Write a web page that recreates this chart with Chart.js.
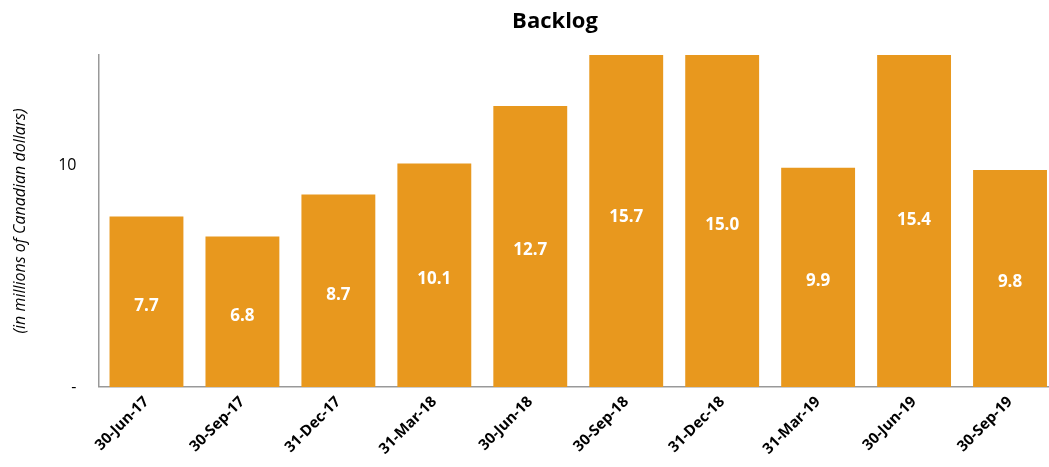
<!DOCTYPE html>
<html>
<head>
<meta charset="utf-8">
<script src="https://cdn.jsdelivr.net/npm/chart.js@4/dist/chart.umd.min.js"></script>
<style>
    html, body { margin: 0; padding: 0; background: #fff; overflow: hidden; }
    #wrap { width: 1060px; height: 467px; }
</style>
</head>
<body>
<div id="wrap"><canvas id="backlogChart"></canvas></div>
<script>
// dados
const quarters = ['30-Jun-17', '30-Sep-17', '31-Dec-17', '31-Mar-18', '30-Jun-18',
                  '30-Sep-18', '31-Dec-18', '31-Mar-19', '30-Jun-19', '30-Sep-19'];
const backlog = [7.7, 6.8, 8.7, 10.1, 12.7, 15.7, 15.0, 9.9, 15.4, 9.8];
const yTicks = [0, 10];

const barColor = '#E8981E';
const fontFamily = '"Open Sans", "DejaVu Sans", sans-serif';

// rótulos dentro das barras
const valueLabels = {
    id: 'valueLabels',
    afterDatasetsDraw(chart) {
        const ctx = chart.ctx;
        const meta = chart.getDatasetMeta(0);
        ctx.save();
        ctx.fillStyle = '#fff';
        ctx.font = 'bold 17px ' + fontFamily;
        ctx.textAlign = 'center';
        ctx.textBaseline = 'middle';
        meta.data.forEach((bar, i) => {
            const mid = (bar.y + bar.base) / 2 + 4;
            ctx.fillText(backlog[i].toFixed(1), bar.x, mid);
        });
        ctx.restore();
    }
};

// título
const chartTitle = {
    id: 'chartTitle',
    afterDraw(chart) {
        const ctx = chart.ctx;
        ctx.save();
        ctx.fillStyle = '#000';
        ctx.font = 'bold 22px ' + fontFamily;
        ctx.textAlign = 'center';
        ctx.textBaseline = 'middle';
        ctx.fillText('Backlog', 555, 22);
        ctx.restore();
    }
};

new Chart(document.getElementById('backlogChart'), {
    type: 'bar',
    data: {
        labels: quarters,
        datasets: [{
            label: 'Backlog',
            data: backlog,
            backgroundColor: barColor,
            borderWidth: 0,
            barPercentage: 0.77,
            categoryPercentage: 1.0
        }]
    },
    options: {
        responsive: true,
        maintainAspectRatio: false,
        animation: false,
        layout: { padding: { top: 55, right: 2, left: 11, bottom: 3 } },
        plugins: {
            legend: { display: false },
            tooltip: { enabled: false }
        },
        scales: {
            x: {
                grid: { display: false, drawTicks: false },
                border: { color: '#999', width: 1.5 },
                ticks: {
                    color: '#000',
                    font: { family: fontFamily, size: 15, weight: 'bold' },
                    maxRotation: 45,
                    minRotation: 45,
                    padding: 6
                }
            },
            y: {
                min: 0,
                max: 15,
                afterBuildTicks: (axis) => { axis.ticks = yTicks.map(v => ({ value: v })); },
                grid: { display: false, drawTicks: false },
                border: { color: '#999', width: 1.5 },
                ticks: {
                    color: '#000',
                    font: { family: fontFamily, size: 16 },
                    padding: 22,
                    callback: (v) => v === 0 ? '-' : v
                },
                title: {
                    display: true,
                    text: '(in millions of Canadian dollars)',
                    color: '#000',
                    font: { family: fontFamily, size: 16, style: 'italic' },
                    padding: { top: 0, bottom: 6 }
                }
            }
        }
    },
    plugins: [valueLabels, chartTitle]
});
</script>
</body>
</html>
